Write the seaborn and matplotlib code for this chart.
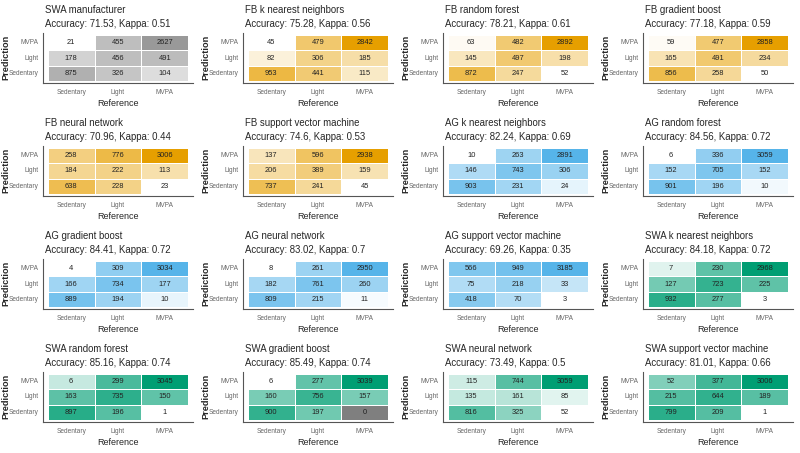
import numpy as np
import pandas as pd
import matplotlib
matplotlib.use('Agg')
import matplotlib.pyplot as plt
from matplotlib.colors import LinearSegmentedColormap, LogNorm
from matplotlib import font_manager
import seaborn as sns

# classes of the confusion matrices
classes = ['Sedentary', 'Light', 'MVPA']
pred_order = ['MVPA', 'Light', 'Sedentary']

titles = ['SWA manufacturer', 'FB k nearest neighbors', 'FB random forest', 'FB gradient boost',
          'FB neural network', 'FB support vector machine', 'AG k nearest neighbors', 'AG random forest',
          'AG gradient boost', 'AG neural network', 'AG support vector machine', 'SWA k nearest neighbors',
          'SWA random forest', 'SWA gradient boost', 'SWA neural network', 'SWA support vector machine']
accuracy = ['71.53', '75.28', '78.21', '77.18', '70.96', '74.6', '82.24', '84.56',
            '84.41', '83.02', '69.26', '84.18', '85.16', '85.49', '73.49', '81.01']
kappa = ['0.51', '0.56', '0.61', '0.59', '0.44', '0.53', '0.69', '0.72',
         '0.72', '0.7', '0.35', '0.72', '0.74', '0.74', '0.5', '0.66']

# linhas = predição (MVPA, Light, Sedentary), colunas = referência (Sedentary, Light, MVPA)
swa_manufacturer = [[21, 455, 2627], [178, 456, 491], [875, 326, 104]]
fb_knn = [[45, 479, 2842], [82, 306, 185], [953, 441, 115]]
fb_rf = [[63, 482, 2892], [145, 497, 198], [872, 247, 52]]
fb_gb = [[59, 477, 2858], [165, 491, 234], [856, 258, 50]]
fb_nn = [[258, 776, 3006], [184, 222, 113], [638, 228, 23]]
fb_svm = [[137, 596, 2938], [206, 389, 159], [737, 241, 45]]
ag_knn = [[10, 263, 2891], [146, 743, 306], [903, 231, 24]]
ag_rf = [[6, 336, 3059], [152, 705, 152], [901, 196, 10]]
ag_gb = [[4, 309, 3034], [166, 734, 177], [889, 194, 10]]
ag_nn = [[8, 261, 2950], [182, 761, 260], [809, 215, 11]]
ag_svm = [[566, 949, 3185], [75, 218, 33], [418, 70, 3]]
swa_knn = [[7, 230, 2968], [127, 723, 225], [932, 277, 3]]
swa_rf = [[6, 299, 3045], [163, 735, 150], [897, 196, 1]]
swa_gb = [[6, 277, 3039], [160, 756, 157], [900, 197, 0]]
swa_nn = [[115, 744, 3059], [135, 161, 85], [816, 325, 52]]
swa_svm = [[52, 377, 3006], [215, 644, 189], [799, 209, 1]]

matrices = [swa_manufacturer, fb_knn, fb_rf, fb_gb, fb_nn, fb_svm, ag_knn, ag_rf,
            ag_gb, ag_nn, ag_svm, swa_knn, swa_rf, swa_gb, swa_nn, swa_svm]
panel_colors = ['#999999'] + ['#E69F00'] * 5 + ['#56B4E9'] * 5 + ['#009E73'] * 5

sns.set_theme(style='white')
names = {f.name for f in font_manager.fontManager.ttflist}
narrow = 'Liberation Sans Narrow' if 'Liberation Sans Narrow' in names else 'Liberation Sans'
plt.rcParams['font.family'] = [narrow, 'DejaVu Sans']

W, H = 800, 453
fig = plt.figure(figsize=(8, 4.53), dpi=100)

for i, mat in enumerate(matrices):
    r, c = divmod(i, 4)
    x0, y0 = 200 * c, 113 * r
    ax = fig.add_axes([(x0 + 43) / W, 1 - (y0 + 83) / H, 150 / W, 50 / H])

    df = pd.DataFrame(mat, index=pred_order, columns=classes)
    vals = df.values.astype(float)
    pos = vals[vals > 0]
    cmap = LinearSegmentedColormap.from_list('c%d' % i, ['white', panel_colors[i]])
    cmap.set_bad('#7f7f7f')
    norm = LogNorm(vmin=pos.min(), vmax=pos.max())

    sns.heatmap(df, ax=ax, cmap=cmap, norm=norm, annot=True, fmt='d', cbar=False,
                linewidths=0.6, linecolor='white', xticklabels=True, yticklabels=True,
                annot_kws={'color': '#222222', 'fontsize': 5.4})
    ax.set_xlim(-0.1, 3.1)
    ax.set_ylim(3.1, -0.1)
    ax.set_xlabel('')
    ax.set_ylabel('')
    for s in ['left', 'bottom']:
        ax.spines[s].set_visible(True)
        ax.spines[s].set_color('#555555')
        ax.spines[s].set_linewidth(0.8)
    ax.tick_params(axis='both', length=2.2, width=0.6, color='#555555',
                   labelsize=4.7, labelcolor='#666666', pad=1.0)
    ax.tick_params(axis='x', pad=2.0)
    plt.setp(ax.get_xticklabels(), rotation=0)
    plt.setp(ax.get_yticklabels(), rotation=0)

    fig.text((x0 + 45) / W, 1 - (y0 + 10) / H, titles[i], fontsize=6.9, va='center', ha='left')
    fig.text((x0 + 45) / W, 1 - (y0 + 24) / H, f'Accuracy: {accuracy[i]}, Kappa: {kappa[i]}',
             fontsize=6.9, va='center', ha='left')
    fig.text((x0 + 118) / W, 1 - (y0 + 103.5) / H, 'Reference', fontsize=6.5, va='center', ha='center')
    fig.text((x0 + 6) / W, 1 - (y0 + 57) / H, 'Prediction', fontsize=6.6, rotation=90,
             va='center', ha='center', family='Liberation Sans', fontweight='bold')

fig.savefig('out.png', dpi=100)
